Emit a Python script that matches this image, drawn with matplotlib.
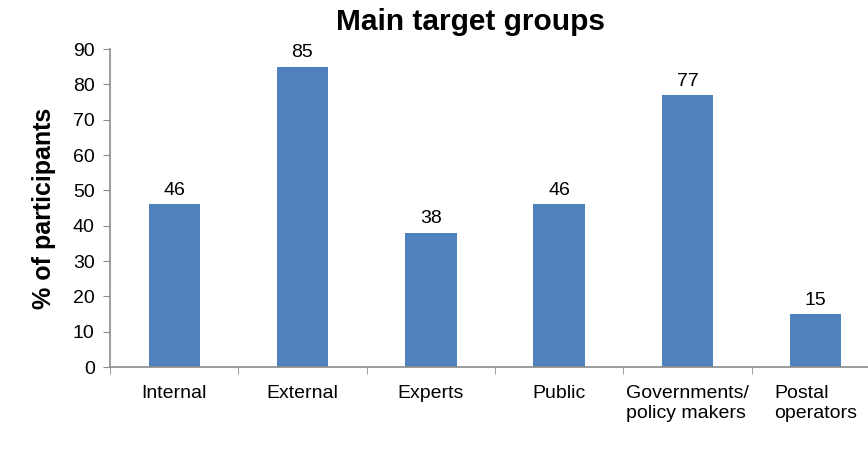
import numpy as np
import matplotlib.pyplot as plt
from matplotlib.ticker import FixedLocator

plt.rcParams['font.family'] = ['Liberation Sans', 'DejaVu Sans']

groups = ['Internal', 'External', 'Experts', 'Public',
          'Governments/\npolicy makers', 'Postal\noperators']
participants = [46, 85, 38, 46, 77, 15]

bar_color = '#4F81BD'
axis_color = '#8C8C8C'

fig = plt.figure(figsize=(8.68, 4.65), dpi=100)
# the last category runs off the right edge of the figure
ax = fig.add_axes([110 / 868, 98 / 465, 770 / 868, 318 / 465])

x = np.arange(len(groups))
bars = ax.bar(x, participants, width=0.4, color=bar_color)

for xi, v in zip(x, participants):
    ax.text(xi, v + 1.5, str(v), ha='center', va='bottom', fontsize=14)

ax.set_xlim(-0.5, len(groups) - 0.5)
ax.set_ylim(0, 90)
ax.set_yticks(range(0, 91, 10))
ax.tick_params(axis='y', labelsize=14, length=5, color=axis_color, pad=6)

ax.set_xticks(x)
ax.set_xticklabels(groups, fontsize=14, multialignment='left', linespacing=1.2)
ax.xaxis.set_minor_locator(FixedLocator(np.arange(-0.5, len(groups), 1)))
ax.tick_params(axis='x', which='major', length=0, pad=13)
ax.tick_params(axis='x', which='minor', length=5, color=axis_color)

for side in ['top', 'right']:
    ax.spines[side].set_visible(False)
for side in ['left', 'bottom']:
    ax.spines[side].set_color(axis_color)
    ax.spines[side].set_linewidth(1.2)

ax.set_ylabel('% of participants', fontsize=18, fontweight='bold', labelpad=12)
fig.text(470 / 868, 1 - 22 / 465, 'Main target groups', ha='center', va='center',
         fontsize=21.5, fontweight='bold')

fig.savefig('out.png', dpi=100)
